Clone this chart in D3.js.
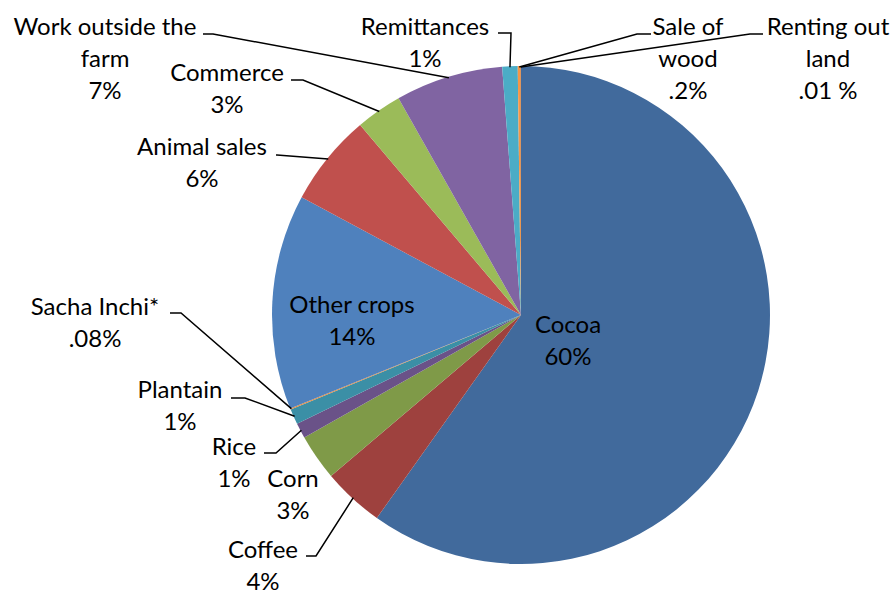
<!DOCTYPE html>
<html>
<head>
<meta charset="utf-8">
<script src="https://cdn.jsdelivr.net/npm/d3@7"></script>
<style>
  html, body { margin: 0; padding: 0; background: #fff; }
  svg { display: block; }
  text { font-family: Lato, "Open Sans", sans-serif; fill: #000; }
</style>
</head>
<body>
<svg id="chart" width="896" height="595"></svg>
<script>
// Income sources, in pie order (clockwise from 12 o'clock)
const categories = [
  "Cocoa", "Coffee", "Corn", "Rice", "Plantain", "Sacha Inchi*", "Other crops",
  "Animal sales", "Commerce", "Work outside the\nfarm", "Remittances",
  "Sale of\nwood", "Renting out\nland"
];
const values = [60, 4, 3, 1, 1, 0.08, 14, 6, 3, 7, 1, 0.2, 0.01];
const valueLabels = ["60%", "4%", "3%", "1%", "1%", ".08%", "14%", "6%", "3%", "7%", "1%", ".2%", ".01 %"];
const colors = [
  "#416a9c", "#9e413e", "#7f9a48", "#6a5288", "#3b8fa6", "#e68a3c", "#4f81bd",
  "#c0504d", "#9bbb59", "#8064a2", "#4bacc6", "#f79646", "#2c4d75"
];

// Label placement: text centre x, first baseline y, and leader start / elbow
const labelLayout = [
  { x: 568, y: 333 },
  { x: 263, y: 558, lead: [[306, 556], [316, 556]] },
  { x: 293, y: 487 },
  { x: 234, y: 455, lead: [[264, 453], [276, 453]] },
  { x: 180, y: 398, lead: [[231, 398], [245, 398]] },
  { x: 95,  y: 315, lead: [[170, 313], [181, 313]] },
  { x: 352, y: 313 },
  { x: 202, y: 155, lead: [[276, 155], [277, 155]] },
  { x: 227, y: 81,  lead: [[291, 80], [303, 80]] },
  { x: 105, y: 35,  lead: [[203, 34], [213, 34]] },
  { x: 425, y: 35,  lead: [[498, 33], [511, 33]] },
  { x: 688, y: 35,  lead: [[651, 34], [637, 34]] },
  { x: 828, y: 35,  lead: [[763, 34], [750, 34]] }
];

const cx = 521, cy = 315, radius = 249, lineGap = 32, fontSize = 24;

const svg = d3.select("#chart");
const g = svg.append("g").attr("transform", `translate(${cx},${cy})`);

const data = categories.map((c, i) => ({ name: c, value: values[i], label: valueLabels[i], color: colors[i], layout: labelLayout[i] }));

const pie = d3.pie().sort(null).value(d => d.value).startAngle(0).endAngle(2 * Math.PI);
const arc = d3.arc().innerRadius(0).outerRadius(radius);
const arcs = pie(data);

g.selectAll("path.slice")
  .data(arcs)
  .join("path")
  .attr("class", "slice")
  .attr("d", arc)
  .attr("fill", d => d.data.color);

// Leader lines from label to the slice's outer edge
const edgePoint = d => {
  const a = (d.startAngle + d.endAngle) / 2;
  const r = radius - 1;
  return [cx + r * Math.sin(a), cy - r * Math.cos(a)];
};

svg.selectAll("polyline.leader")
  .data(arcs.filter(d => d.data.layout.lead))
  .join("polyline")
  .attr("class", "leader")
  .attr("fill", "none")
  .attr("stroke", "#000")
  .attr("stroke-width", 1.5)
  .attr("points", d => [...d.data.layout.lead, edgePoint(d)].map(p => p.join(",")).join(" "));

// Labels: category name lines followed by the percentage
const labels = svg.selectAll("text.label")
  .data(arcs)
  .join("text")
  .attr("class", "label")
  .attr("text-anchor", "middle")
  .attr("font-size", fontSize);

labels.each(function(d) {
  const lines = d.data.name.split("\n").concat([d.data.label]);
  const t = d3.select(this);
  lines.forEach((ln, i) => {
    t.append("tspan")
      .attr("x", d.data.layout.x)
      .attr("y", d.data.layout.y + i * lineGap)
      .text(ln);
  });
});
</script>
</body>
</html>
